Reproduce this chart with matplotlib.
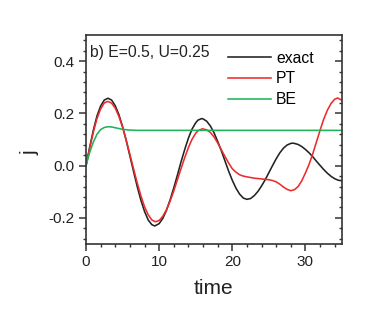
import matplotlib
matplotlib.use("Agg")
import matplotlib.pyplot as plt
from matplotlib.ticker import MultipleLocator

plt.rcParams['font.family'] = ['Liberation Sans', 'DejaVu Sans']

# exact
t_exact = [0, 0.5, 1, 1.5, 2, 2.5, 3, 3.5, 4, 4.5, 5, 5.5, 6, 6.5, 7, 7.5, 8, 8.5, 9, 9.4,
           10, 10.5, 11, 11.5, 12, 12.5, 13, 13.5, 14, 14.5, 15, 15.3, 15.8,
           16, 16.5, 17, 17.5, 18, 18.5, 19, 19.5, 20, 20.5, 21, 21.5, 22,
           22.5, 23, 23.5, 24, 24.5, 25, 25.5, 26, 26.5, 27, 27.5, 28, 28.2,
           28.5, 29, 29.5, 30, 30.5, 31, 31.5, 32, 32.5, 33, 33.5, 34, 34.5, 35]
j_exact = [0, 0.07, 0.135, 0.19, 0.228, 0.251, 0.258, 0.251, 0.229, 0.195, 0.149, 0.096, 0.037, -0.022,
           -0.080, -0.132, -0.175, -0.208, -0.226, -0.231,
           -0.222, -0.202, -0.171, -0.131, -0.085, -0.036, 0.015, 0.062, 0.105, 0.140, 0.164, 0.174, 0.180,
           0.179, 0.170, 0.152, 0.126, 0.093, 0.057, 0.018, -0.021, -0.056, -0.086, -0.109, -0.124, -0.129,
           -0.126, -0.115, -0.099, -0.078, -0.054, -0.027, 0.000, 0.026, 0.049, 0.067, 0.079, 0.085, 0.086,
           0.085, 0.081, 0.073, 0.062, 0.049, 0.034, 0.017, 0.001, -0.015, -0.029, -0.041, -0.050, -0.056, -0.058]

# PT
t_pt = [0, 0.5, 1, 1.5, 2, 2.5, 3, 3.5, 4, 4.5, 5, 5.5, 6, 6.5, 7, 7.5, 8, 8.5, 9, 9.5,
        10, 10.5, 11, 11.5, 12, 12.5, 13, 13.5, 14, 14.5, 15, 15.3, 15.9,
        16.5, 17, 17.5, 18, 18.5, 19, 19.5, 20, 20.5, 21, 21.5, 22, 23, 24, 25, 25.5, 26, 26.5, 27, 27.5, 28,
        28.5, 29, 29.5, 30, 30.5, 31, 31.5, 32, 32.5, 33, 33.5, 34, 34.4, 35]
j_pt = [0, 0.066, 0.128, 0.18, 0.217, 0.240, 0.246, 0.239, 0.220, 0.188, 0.147, 0.097, 0.043, -0.012,
        -0.066, -0.115, -0.157, -0.188, -0.208, -0.215,
        -0.210, -0.194, -0.169, -0.136, -0.097, -0.054, -0.011, 0.031, 0.069, 0.101, 0.124, 0.133, 0.141,
        0.137, 0.127, 0.110, 0.087, 0.061, 0.035, 0.010, -0.012, -0.025, -0.035, -0.040, -0.043, -0.048,
        -0.051, -0.054, -0.057, -0.062, -0.071, -0.082, -0.091, -0.096,
        -0.092, -0.080, -0.058, -0.028, 0.005, 0.045, 0.090, 0.135, 0.178, 0.212, 0.238, 0.254, 0.259, 0.250]

# BE
t_be = [0, 0.5, 1, 1.5, 2, 2.5, 3, 3.5, 4, 5, 6, 7, 35]
j_be = [0, 0.05, 0.09, 0.12, 0.138, 0.146, 0.149, 0.148, 0.145, 0.139, 0.136, 0.135, 0.135]

labels = ["exact", "PT", "BE"]
annotation = "b) E=0.5, U=0.25"

fig = plt.figure(figsize=(3.82, 3.24), dpi=100)
ax = fig.add_axes([86/382, 1-244/324, 256/382, 209/324])

ax.plot(t_exact, j_exact, color='#222222', lw=1.15, label=labels[0])
ax.plot(t_pt, j_pt, color='#ee2b2b', lw=1.15, label=labels[1])
ax.plot(t_be, j_be, color='#1fb35a', lw=1.15, label=labels[2])

ax.set_xlim(0, 35)
ax.set_ylim(-0.3, 0.5)
ax.set_xticks([0, 10, 20, 30])
ax.set_yticks([-0.2, 0.0, 0.2, 0.4])
ax.set_yticklabels(['-0.2', '0.0', '0.2', '0.4'])
ax.xaxis.set_minor_locator(MultipleLocator(2))
ax.yaxis.set_minor_locator(MultipleLocator(0.04))

for s in ax.spines.values():
    s.set_color('#333333')
    s.set_linewidth(1.2)

ax.tick_params(axis='both', which='major', direction='out', length=5, width=1.1,
               color='#333333', labelsize=11, labelcolor='#222222', pad=3)
ax.tick_params(axis='both', which='minor', direction='out', length=2.5, width=1.0, color='#333333')
ax.tick_params(axis='x', which='both', top=False)
ax.tick_params(axis='y', which='both', right=True)
# right side ticks point inward
for t in ax.yaxis.get_major_ticks() + ax.yaxis.get_minor_ticks():
    t.tick2line.set_marker(0)

ax.set_xlabel('time', fontsize=15, color='#222222')
ax.set_ylabel('j', fontsize=15, color='#222222')
ax.xaxis.set_label_coords(0.496, -0.215)
ax.xaxis.label.set_va('center')
ax.yaxis.set_label_coords(-0.219, 0.435)
ax.yaxis.label.set_va('center')

ax.text(4/256, 1 - 17/209, annotation, transform=ax.transAxes, fontsize=11.3,
        color='#222222', va='center', ha='left')

ax.legend(loc='upper left', bbox_to_anchor=(0.555, 0.925), frameon=False,
          fontsize=11.3, handlelength=2.74, handletextpad=0.32, labelspacing=0.37,
          borderpad=0, borderaxespad=0)

fig.savefig('out.png', dpi=100)
